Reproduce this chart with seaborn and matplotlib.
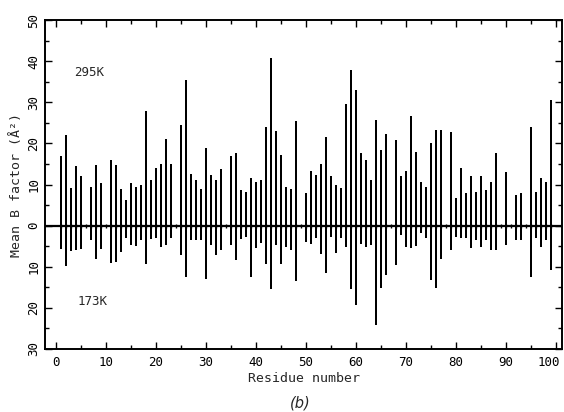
import numpy as np
import pandas as pd
import seaborn as sns
import matplotlib
matplotlib.use("Agg")
import matplotlib.pyplot as plt
import matplotlib.transforms as mtransforms
from matplotlib.ticker import MultipleLocator, FuncFormatter

residues = list(range(1, 100))
b_295K = [17, 22, 9.2, 14.4, 12.2, 0, 9.5, 14.8, 10.4, 0,
          16, 14.8, 9, 6.3, 10.5, 9.5, 10, 27.8, 11, 14,
          15, 21, 15, 0, 24.4, 35.4, 12.6, 11.2, 9, 19,
          12.4, 11, 13.9, 0, 17, 17.8, 8.7, 8.1, 11.7, 10.7,
          11, 24.1, 40.9, 23, 17.2, 9.5, 9, 25.4, 0, 7.9,
          13.4, 12.3, 14.9, 21.5, 12, 9.8, 9.1, 29.7, 38, 32.9,
          17.7, 16, 11, 25.8, 18.3, 22.2, 0, 20.9, 12, 13.4,
          26.6, 18, 10.7, 9.5, 20, 23.2, 23.4, 0, 22.9, 6.8,
          14, 7.9, 12, 8.1, 12, 8.7, 10.6, 17.7, 0, 13,
          0, 7.5, 8, 0, 24.1, 8.3, 11.7, 10.6, 30.5]
b_173K = [5.6, 9.8, 6.1, 5.9, 5.7, 0, 3.4, 8.1, 5.7, 0,
          9.1, 8.8, 6.5, 3, 4.7, 4.9, 3.4, 9.4, 3.3, 3,
          5.1, 4.7, 3, 0, 7.2, 12.6, 3.4, 3.4, 3.4, 13,
          4.7, 7.1, 5.9, 0, 4.7, 8.4, 3.2, 2.7, 12.6, 5.5,
          4.2, 9.4, 15.4, 4.7, 9.4, 5.3, 5.8, 13.4, 0, 3.9,
          4.4, 3, 6.8, 11.4, 2.7, 6.6, 3.1, 5.1, 15.4, 19.3,
          4.4, 5.1, 4.7, 24.2, 15.1, 12, 0, 9.6, 2.3, 5.1,
          5.4, 4.9, 1.8, 3, 13.2, 15.2, 8, 0, 5.9, 2.7,
          3, 3, 5.5, 3.4, 5.1, 3.4, 5.9, 5.8, 0, 4.7,
          0, 3.6, 3.6, 0, 12.4, 3.1, 5.2, 3.4, 10.8]
x_ticks = [0, 10, 20, 30, 40, 50, 60, 70, 80, 90, 100]
y_ticks = [-30, -20, -10, 0, 10, 20, 30, 40, 50]

df = pd.DataFrame({"residue": residues,
                   "up": b_295K,
                   "down": [-v for v in b_173K]})

sns.set_style("ticks")
plt.rcParams['font.family'] = ['DejaVu Sans Mono', 'DejaVu Sans']

fig = plt.figure(figsize=(5.64, 4.12), dpi=100)
ax = fig.add_axes([0.080, 0.153, 0.9165, 0.798])

sns.barplot(data=df, x="residue", y="up", native_scale=True, width=0.26,
            color="black", saturation=1, ax=ax, edgecolor="none")
sns.barplot(data=df, x="residue", y="down", native_scale=True, width=0.26,
            color="black", saturation=1, ax=ax, edgecolor="none")

ax.axhline(0, color="black", lw=1.6, zorder=5)
sns.scatterplot(x=residues, y=[0] * len(residues), marker="|", s=12,
                color="black", linewidth=1.0, ax=ax, zorder=6)

ax.set_xlim(-2.2, 101.2)
ax.set_ylim(-30, 50)
ax.set_xticks(x_ticks, [str(v) for v in x_ticks])
ax.set_yticks(y_ticks, [str(abs(v)) for v in y_ticks])
ax.xaxis.set_minor_locator(MultipleLocator(5))
ax.yaxis.set_minor_locator(MultipleLocator(5))

ax.tick_params(which="both", direction="in", top=True, right=True,
               labelsize=9, width=1.0, color="black", labelcolor="black")
ax.tick_params(which="major", length=5)
ax.tick_params(which="minor", length=3)
ax.tick_params(axis="x", pad=5)
for lab in ax.get_yticklabels():
    lab.set_rotation(90)
    lab.set_va("center")
# keep the last x label ("100") inside the image edge
lab100 = ax.get_xticklabels()[-1]
lab100.set_ha("right")
lab100.set_transform(lab100.get_transform()
                     + mtransforms.ScaledTranslation(3 / 72, 0, fig.dpi_scale_trans))
for sp in ax.spines.values():
    sp.set_linewidth(1.4)
    sp.set_color("black")

ax.set_xlabel("Residue number", fontsize=9.5, labelpad=2)
ax.set_ylabel("Mean B factor (Å²)", fontsize=9.5, labelpad=3)

ax.text(3.6, 37.2, "295K", fontsize=9, va="center", ha="left")
ax.text(4.2, -18.5, "173K", fontsize=9, va="center", ha="left")

fig.text(0.532, 0.004, "(b)", fontsize=10.5, style="italic",
         family="DejaVu Sans", ha="center", va="bottom")

fig.savefig("out.png", dpi=100)
